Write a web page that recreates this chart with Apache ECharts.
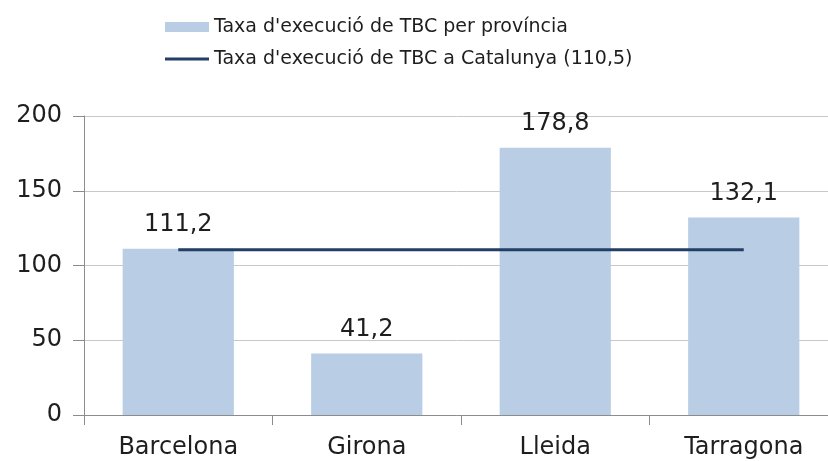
<!DOCTYPE html>
<html>
<head>
  <meta charset="utf-8">
  <script src="https://cdn.jsdelivr.net/npm/echarts@6/dist/echarts.min.js"></script>
  <style>
    html, body { margin: 0; padding: 0; background: #fff; }
    #chart { width: 828px; height: 461px; }
  </style>
</head>
<body>
  <div id="chart"></div>
  <script>
    // dades
    var provincies = ['Barcelona', 'Girona', 'Lleida', 'Tarragona'];
    var taxaProvincia = [111.2, 41.2, 178.8, 132.1];
    var taxaCatalunya = [110.5, 110.5, 110.5, 110.5];
    var nomBarres = "Taxa d'execució de TBC per província";
    var nomLinia = "Taxa d'execució de TBC a Catalunya (110,5)";

    var font = 'DejaVu Sans';
    var chart = echarts.init(document.getElementById('chart'));

    chart.setOption({
      animation: false,
      textStyle: { fontFamily: font },
      legend: {
        orient: 'vertical',
        left: 160,
        top: 12,
        itemWidth: 44,
        itemHeight: 10,
        itemGap: 12,
        textStyle: { fontFamily: font, fontSize: 19, color: '#1e1e1e', lineHeight: 20 },
        data: [
          { name: nomBarres, icon: 'rect' },
          // línia fina sense punt
          { name: nomLinia, icon: 'path://M0,0M0,10M0,3.5H44V6.5H0Z' }
        ]
      },
      grid: {
        left: 84, top: 116, bottom: 46, right: -10,
        containLabel: false,
        outerBoundsMode: 'none'
      },
      xAxis: {
        type: 'category',
        data: provincies,
        axisLine: { lineStyle: { color: '#8c8c8c', width: 1 } },
        axisTick: { show: true, length: 10, lineStyle: { color: '#8c8c8c' } },
        axisLabel: { fontFamily: font, fontSize: 24, color: '#1e1e1e', margin: 21 }
      },
      yAxis: {
        type: 'value',
        min: 0,
        max: 200,
        interval: 50,
        axisLine: { show: true, lineStyle: { color: '#8c8c8c', width: 1 } },
        axisTick: { show: true, length: 11, lineStyle: { color: '#8c8c8c' } },
        axisLabel: { fontFamily: font, fontSize: 24, color: '#1e1e1e', margin: 22, padding: [8, 0, 0, 0] },
        splitLine: { show: true, lineStyle: { color: '#c8c8c8', width: 1 } }
      },
      series: [
        {
          name: nomBarres,
          type: 'bar',
          data: taxaProvincia,
          barWidth: '59%',
          itemStyle: { color: '#b9cde5' },
          label: {
            show: true,
            position: 'top',
            distance: 12,
            fontFamily: font,
            fontSize: 24,
            color: '#1e1e1e',
            formatter: function (p) {
              return p.value.toFixed(1).replace('.', ',');
            }
          }
        },
        {
          name: nomLinia,
          type: 'line',
          data: taxaCatalunya,
          symbol: 'none',
          lineStyle: { color: '#243f66', width: 3 },
          itemStyle: { color: '#243f66' }
        }
      ]
    });
  </script>
</body>
</html>
